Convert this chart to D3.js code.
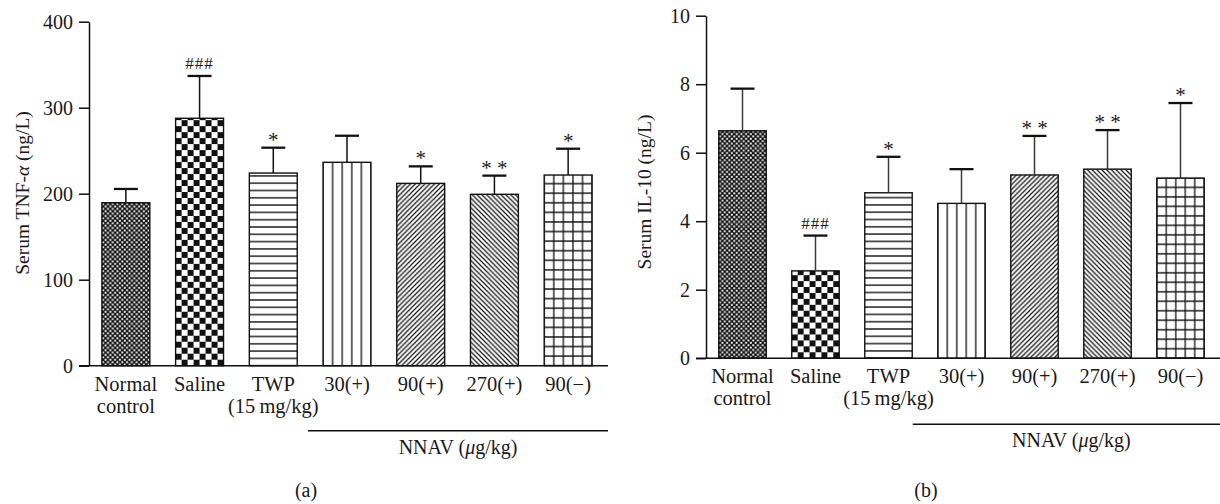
<html>
<head>
    <meta charset="UTF-8" />
    <title>Serum TNF-α and IL-10</title>
    <script src="https://d3js.org/d3.v7.min.js"></script>
    <style>
        body { margin: 0; background: #fff; }
        text { font-family: "Liberation Serif", "DejaVu Serif", serif; fill: #1a1a1a; }
    </style>
</head>
<body>
<svg id="canvas" width="1220" height="504"></svg>
<script>
    // groups on the x axis (same for both panels)
    const groups = ["Normal control", "Saline", "TWP (15 mg/kg)", "30(+)", "90(+)", "270(+)", "90(−)"];
    const groupLines = [["Normal", "control"], ["Saline"], ["TWP", "(15\u2009mg/kg)"], ["30(+)"], ["90(+)"], ["270(+)"], ["90(−)"]];
    const fills = ["fineCheck", "check", "hlines", "vlines", "diagUp", "diagDown", "grid"];

    // panel (a): serum TNF-alpha, ng/L
    const tnfMean = [189.5, 287.7, 224, 236.5, 212, 199.3, 221.7];
    const tnfSd   = [16, 49.2, 29.5, 30.9, 19.8, 21.7, 30.6];
    const tnfMark = ["", "###", "*", "", "*", "* *", "*"];
    const tnfTicks = [0, 100, 200, 300, 400];

    // panel (b): serum IL-10, ng/L
    const ilMean = [6.64, 2.55, 4.83, 4.52, 5.35, 5.52, 5.26];
    const ilSd   = [1.23, 1.03, 1.05, 1.0, 1.14, 1.14, 2.19];
    const ilMark = ["", "###", "*", "", "* *", "* *", "*"];
    const ilTicks = [0, 2, 4, 6, 8, 10];

    let svg = d3.select("svg#canvas");
    let defs = svg.append("defs");

    // hatch patterns, one per bar so they line up with the bar edges
    function makePattern(id, kind, x0, y0, bw) {
        let p, w, h;
        if (kind == "fineCheck") { w = h = bw / 10; }
        else if (kind == "check") { w = h = bw / 4; }
        else if (kind == "hlines") { w = 10; h = 7.3; }
        else if (kind == "vlines") { w = bw / 5; h = 10; }
        else if (kind == "grid") { w = h = bw / 5; }
        else { w = h = 4.8; }

        p = defs.append("pattern").attr("id", id)
            .attr("patternUnits", "userSpaceOnUse")
            .attr("x", x0).attr("y", y0)
            .attr("width", w).attr("height", h);
        p.append("rect").attr("width", w).attr("height", h)
            .attr("fill", kind == "fineCheck" ? "#111" : "#fff");

        if (kind == "fineCheck") {
            p.append("rect").attr("x", 0.3).attr("y", 0.3).attr("width", w / 2 - 0.5).attr("height", h / 2 - 0.5).attr("fill", "#fff");
            p.append("rect").attr("x", w / 2 + 0.3).attr("y", h / 2 + 0.3).attr("width", w / 2 - 0.5).attr("height", h / 2 - 0.5).attr("fill", "#fff");
        } else if (kind == "check") {
            p.append("rect").attr("x", 0).attr("y", 0).attr("width", w / 2).attr("height", h / 2).attr("fill", "#111");
            p.append("rect").attr("x", w / 2).attr("y", h / 2).attr("width", w / 2).attr("height", h / 2).attr("fill", "#111");
        } else {
            let d = "";
            if (kind == "hlines") d = `M0,0H${w}M0,${h}H${w}`;
            if (kind == "vlines") d = `M0,0V${h}M${w},0V${h}`;
            if (kind == "grid") d = `M0,0V${h}M${w},0V${h}M0,0H${w}M0,${h}H${w}`;
            if (kind == "diagUp") d = `M0,${h}L${w},0M-1,1L1,-1M${w - 1},${h + 1}L${w + 1},${h - 1}`;
            if (kind == "diagDown") d = `M0,0L${w},${h}M-1,${h - 1}L1,${h + 1}M${w - 1},-1L${w + 1},1`;
            p.append("path").attr("d", d).attr("stroke", "#111")
                .attr("stroke-width", (kind == "diagUp" || kind == "diagDown") ? 1.2 : 1.3)
                .attr("fill", "none");
        }
    }

    function drawPanel(cfg) {
        let g = svg.append("g").attr("id", "panel-" + cfg.id);

        const y = d3.scaleLinear().domain([0, cfg.yMax]).range([cfg.yBottom, cfg.yTop]);
        const x = d3.scaleBand().domain(groups)
            .range([cfg.left, cfg.bandEnd])
            .paddingInner(0.35).paddingOuter(0.175);
        const bw = x.bandwidth();

        // bars
        groups.forEach((d, i) => {
            let pid = `pat-${cfg.id}-${i}`;
            makePattern(pid, fills[i], x(d), y(0), bw);
            g.append("rect")
                .attr("x", x(d))
                .attr("y", y(cfg.mean[i]))
                .attr("width", bw)
                .attr("height", y(0) - y(cfg.mean[i]))
                .attr("fill", `url(#${pid})`)
                .attr("stroke", "#111")
                .attr("stroke-width", 1.4);
        });

        // error bars (upper only) and significance marks
        groups.forEach((d, i) => {
            let cx = x(d) + bw / 2;
            let top = y(cfg.mean[i] + cfg.sd[i]);
            g.append("line")
                .attr("x1", cx).attr("x2", cx)
                .attr("y1", y(cfg.mean[i])).attr("y2", top)
                .attr("stroke", cfg.errColor).attr("stroke-width", 1.5);
            g.append("line")
                .attr("x1", cx - 12).attr("x2", cx + 12)
                .attr("y1", top).attr("y2", top)
                .attr("stroke", "#111").attr("stroke-width", 2.3);

            let m = cfg.mark[i];
            if (m != "") {
                let hash = m.startsWith("#");
                g.append("text")
                    .attr("x", cx)
                    .attr("y", hash ? top - 7 : top - 1)
                    .attr("text-anchor", "middle")
                    .attr("font-size", hash ? "17px" : "21px")
                    .attr("letter-spacing", hash ? "1px" : "0px")
                    .text(m);
            }
        });

        // y axis
        let yAxis = g.append("g")
            .attr("transform", `translate(${cfg.left},0)`)
            .call(d3.axisLeft(y).tickValues(cfg.ticks).tickSize(10).tickSizeOuter(0).tickPadding(6));
        yAxis.attr("font-family", null).attr("font-size", null);
        yAxis.selectAll("path, line").attr("stroke", "#111").attr("stroke-width", 1.5);
        yAxis.selectAll("text").attr("font-size", "20px").attr("fill", "#1a1a1a");

        // x axis line, running from the 0 tick to the right end
        g.append("line")
            .attr("x1", cfg.left - 10).attr("x2", cfg.axisEnd)
            .attr("y1", y(0)).attr("y2", y(0))
            .attr("stroke", "#111").attr("stroke-width", 1.5);

        // category labels
        groups.forEach((d, i) => {
            let t = g.append("text")
                .attr("x", x(d) + bw / 2)
                .attr("y", y(0) + 25)
                .attr("text-anchor", "middle")
                .attr("font-size", "20.5px");
            groupLines[i].forEach((line, k) => {
                t.append("tspan").attr("x", x(d) + bw / 2).attr("dy", k == 0 ? 0 : 22).text(line);
            });
        });

        // NNAV bracket line and caption
        let nx1 = x("30(+)") - cfg.nnavPad;
        g.append("line")
            .attr("x1", nx1).attr("x2", cfg.axisEnd)
            .attr("y1", y(0) + cfg.nnavGap).attr("y2", y(0) + cfg.nnavGap)
            .attr("stroke", "#111").attr("stroke-width", 1.5);
        let nt = g.append("text")
            .attr("x", (nx1 + cfg.axisEnd) / 2 + cfg.nnavShift)
            .attr("y", y(0) + cfg.nnavGap + 23)
            .attr("text-anchor", "middle")
            .attr("font-size", "20px");
        nt.append("tspan").text("NNAV (");
        nt.append("tspan").attr("font-style", "italic").text("μ");
        nt.append("tspan").text("g/kg)");

        // y axis title
        let yt = g.append("text")
            .attr("transform", `translate(${cfg.titleX},${cfg.titleY}) rotate(-90)`)
            .attr("text-anchor", "middle")
            .attr("dominant-baseline", "central")
            .attr("font-size", "19.5px");
        cfg.title.forEach((part) => {
            yt.append("tspan").attr("font-style", part[1] ? "italic" : null).text(part[0]);
        });

        // panel letter
        g.append("text")
            .attr("x", cfg.letterX).attr("y", 497)
            .attr("text-anchor", "middle")
            .attr("font-size", "20px")
            .text(cfg.letter);
    }

    drawPanel({
        id: "a", yMax: 400, ticks: tnfTicks, mean: tnfMean, sd: tnfSd, mark: tnfMark,
        left: 89, bandEnd: 605, axisEnd: 608, yTop: 21.7, yBottom: 365.7,
        errColor: "#111", nnavPad: 15, nnavGap: 65, nnavShift: 0,
        title: [["Serum TNF-", false], ["α", true], [" (ng/L)", false]],
        titleX: 22, titleY: 193, letter: "(a)", letterX: 306
    });

    drawPanel({
        id: "b", yMax: 10, ticks: ilTicks, mean: ilMean, sd: ilSd, mark: ilMark,
        left: 706, bandEnd: 1217, axisEnd: 1220, yTop: 15.7, yBottom: 358.2,
        errColor: "#3a3a3a", nnavPad: 25, nnavGap: 66, nnavShift: 5,
        title: [["Serum IL-10 (ng/L)", false]],
        titleX: 644, titleY: 192, letter: "(b)", letterX: 926
    });
</script>
</body>
</html>
